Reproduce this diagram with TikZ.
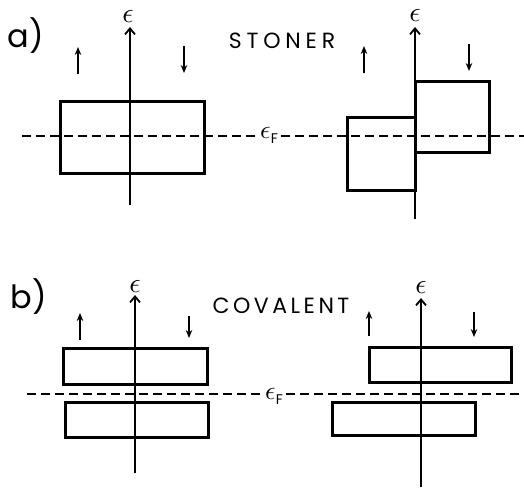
\documentclass[tikz,border=0pt]{standalone}
\usepackage{fontspec}
\setsansfont{Poppins}
\newfontfamily\stonerfont[LetterSpace=22]{Poppins}
\newfontfamily\covalfont[LetterSpace=16]{Poppins}
\usetikzlibrary{arrows.meta}
\newcommand{\bigeps}{\scalebox{2.8}{$\epsilon$}}
\newcommand{\fermisym}{\scalebox{2.6}{$\epsilon$}\raisebox{-5pt}{\sffamily\fontsize{14}{15}\selectfont F}}
\begin{document}
\begin{tikzpicture}[x=1pt,y=-1pt,
  band/.style={draw,line width=3pt,inner sep=0pt},
  axis/.style={line width=2pt,-{Straight Barb[length=6pt,width=10pt,line width=1.8pt]}},
  spinarrow/.style={line width=2.4pt,-{Stealth[length=8pt,width=6.5pt]}},
  fermi/.style={line width=2.8pt,dash pattern=on 9pt off 5pt},
  eps/.style={inner sep=0pt},
  panel/.style={inner sep=0pt,font=\sffamily\fontsize{32}{36}\selectfont},
  title/.style={inner sep=0pt}]
\useasboundingbox (0,0) rectangle (524,488);
% ---------- a) STONER ----------
\node[panel] (la) at (26,36) {a)};
\node[title,font=\stonerfont\fontsize{22}{26}\selectfont] (stoner) at (282,41) {STONER};
% left diagram
\coordinate (a1b) at (130,205);
\coordinate (a1t) at (130,27);
\node[eps] (a1e) at (128,16) {\bigeps};
\node[band,minimum width=144pt,minimum height=72pt] (a1box) at (132,137) {};
\draw[axis] (a1b) -- (a1t);
\coordinate (a1u0) at (78,74); \coordinate (a1u1) at (78,47);
\coordinate (a1d0) at (184,46); \coordinate (a1d1) at (184,73);
\draw[spinarrow] (a1u0) -- (a1u1);
\draw[spinarrow] (a1d0) -- (a1d1);
% right diagram
\coordinate (a2b) at (415,219);
\coordinate (a2t) at (415,27);
\node[eps] (a2e) at (415,15) {\bigeps};
\node[band,minimum width=68pt,minimum height=73pt] (a2up) at (381,153.5) {};
\node[band,minimum width=74pt,minimum height=71pt] (a2dn) at (452,116.5) {};
\draw[axis] (a2b) -- (a2t);
\coordinate (a2u0) at (364,73); \coordinate (a2u1) at (364,46);
\coordinate (a2d0) at (469,44); \coordinate (a2d1) at (469,71);
\draw[spinarrow] (a2u0) -- (a2u1);
\draw[spinarrow] (a2d0) -- (a2d1);
% Fermi level a
\node[eps] (efa) at (269,135) {\fermisym};
\coordinate (efa0) at (22,136);
\coordinate (efa1) at (524,136);
\draw[fermi] (efa0) -- ([xshift=-3pt]efa.west |- efa0);
\draw[fermi] ([xshift=3pt]efa.east |- efa0) -- (efa1);
% ---------- b) COVALENT ----------
\node[panel] (lb) at (29,297) {b)};
\node[title,font=\covalfont\fontsize{22}{26}\selectfont] (coval) at (281,306) {COVALENT};
% left diagram
\coordinate (b1b) at (135,473);
\coordinate (b1t) at (135,295);
\node[eps] (b1e) at (135,286) {\bigeps};
\node[band,minimum width=144pt,minimum height=36pt] (b1up) at (135,366) {};
\node[band,minimum width=143pt,minimum height=35pt] (b1lo) at (136.5,419.5) {};
\draw[axis] (b1b) -- (b1t);
\coordinate (b1u0) at (80,340); \coordinate (b1u1) at (80,313);
\coordinate (b1d0) at (189,316); \coordinate (b1d1) at (189,338);
\draw[spinarrow] (b1u0) -- (b1u1);
\draw[spinarrow] (b1d0) -- (b1d1);
% right diagram
\coordinate (b2b) at (421,487);
\coordinate (b2t) at (421,298);
\node[eps] (b2e) at (421,287) {\bigeps};
\node[band,minimum width=142pt,minimum height=35pt] (b2up) at (440,364.5) {};
\node[band,minimum width=143pt,minimum height=33pt] (b2lo) at (403.5,418.5) {};
\draw[axis] (b2b) -- (b2t);
\coordinate (b2u0) at (369,336); \coordinate (b2u1) at (369,311);
\coordinate (b2d0) at (474,312); \coordinate (b2d1) at (474,337);
\draw[spinarrow] (b2u0) -- (b2u1);
\draw[spinarrow] (b2d0) -- (b2d1);
% Fermi level b
\node[eps] (efb) at (274,396) {\fermisym};
\coordinate (efb0) at (27,394);
\coordinate (efb1) at (524,394);
\draw[fermi] (efb0) -- ([xshift=-3pt]efb.west |- efb0);
\draw[fermi] ([xshift=3pt]efb.east |- efb0) -- (efb1);
\end{tikzpicture}
\end{document}
